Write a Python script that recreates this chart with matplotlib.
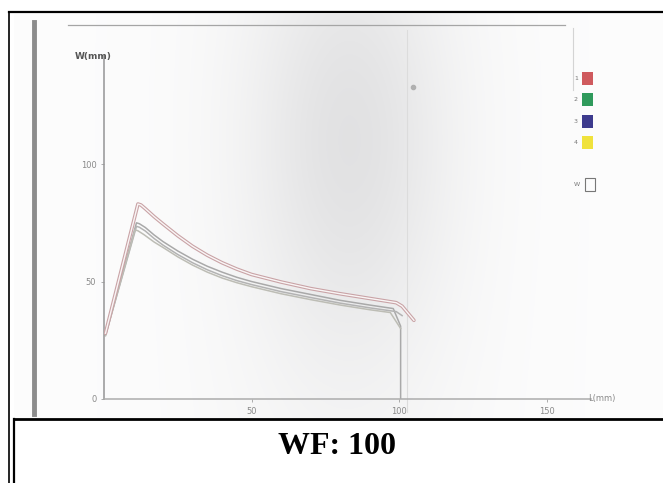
import numpy as np
import matplotlib
matplotlib.use('Agg')
import matplotlib.pyplot as plt
from matplotlib.patches import Rectangle

# ---------------- data ----------------
L1 = [0.5, 11.5, 12.5, 14, 17, 20, 25, 30, 35, 40, 45, 50, 60, 70, 80, 90, 99, 101, 105]
F1 = [28, 83, 82.6, 81, 77.6, 74.5, 69.5, 65, 61.2, 58, 55.3, 53, 49.8, 47, 44.8, 42.8, 41, 39.5, 33.5]

L2 = [0.5, 11, 12, 14, 17, 20, 25, 30, 35, 40, 45, 50, 60, 70, 80, 90, 98, 100.5, 100.5]
F2 = [27.5, 75, 74.6, 73, 69.8, 67, 63, 59.5, 56.5, 54, 51.8, 50, 47, 44.5, 42, 40, 38.5, 31, 0]

L3 = [0.5, 11, 12, 14, 17, 20, 25, 30, 35, 40, 45, 50, 60, 70, 80, 90, 99, 101]
F3 = [27, 73.5, 73.1, 71.5, 68.3, 65.5, 61.5, 58, 55, 52.5, 50.4, 48.7, 45.7, 43.2, 40.8, 38.8, 37.2, 35.5]

L4 = [0.5, 10.5, 11.5, 13.5, 17, 20, 25, 30, 35, 40, 45, 50, 60, 70, 80, 90, 97, 100.5]
F4 = [27, 72, 71.6, 70, 66.8, 64.5, 60.5, 57, 54, 51.5, 49.5, 47.8, 44.8, 42.3, 40, 38, 36.8, 30]

series_L = [L1, L2, L3, L4]
series_F = [F1, F2, F3, F4]
series_names = ['1', '2', '3', '4']
legend_colors = ['#cf5a5e', '#2f9a5c', '#3d3b8e', '#f0e23c']
line_colors = ['#c9a3a6', '#a9a9a9', '#b3b3b3', '#bdbdb5']

x_ticks = [50, 100, 150]
y_ticks = [0, 50, 100]
x_label = 'L(mm)'
y_label = 'W(mm)'
caption = 'WF: 100'

# ---------------- figure ----------------
W, H = 663, 483
fig = plt.figure(figsize=(W / 100, H / 100), dpi=100)

ov = fig.add_axes([0, 0, 1, 1], zorder=0)
yy, xx = np.mgrid[0:H, 0:W]
dark = (0.085 * np.exp(-0.5 * (((xx - 350) / 70) ** 2 + ((yy - 140) / 150) ** 2))
        + 0.02 * np.exp(-0.5 * (((xx - 340) / 110) ** 2)) + 0.01)
img = np.ones((H, W, 3)) - dark[..., None] * np.array([1.0, 1.0, 0.96])
mask = (xx >= 14) & (yy >= 14) & (yy <= 418)
img[~mask] = 1.0
ov.imshow(img, extent=(0, W, H, 0), aspect='auto', interpolation='bilinear', zorder=0)
ov.set_xlim(0, W)
ov.set_ylim(H, 0)
ov.axis('off')

# frame of the table cell
ov.plot([9, 9], [12, H], color='black', lw=1.2, zorder=5)
ov.plot([9, W], [12, 12], color='black', lw=1.6, zorder=5)
ov.plot([14, W], [419, 419], color='black', lw=2.0, zorder=5)
ov.plot([14, 14], [419, H], color='black', lw=1.6, zorder=5)

# scan artifacts
ov.plot([34, 34], [22, 414], color='#8c8c8c', lw=3.5, zorder=2)
ov.plot([68, 565], [25, 25], color='#a5a5a5', lw=0.9, zorder=2)
ov.plot([407, 407], [30, 412], color='#dcdcdc', lw=0.8, zorder=2)
ov.plot([573, 573], [28, 90], color='#d4d4d4', lw=0.8, zorder=2)
ov.plot([413], [87], 'o', color='#b0b0b0', ms=3, zorder=2)

# legend of the original instrument chart
leg_y = [72, 93, 115, 136]
for name, col, y0 in zip(series_names, legend_colors, leg_y):
    ov.add_patch(Rectangle((582, y0), 11, 13, facecolor=col, edgecolor='none', zorder=3))
    ov.text(576, y0 + 6.5, name, fontsize=4.5, color='#777777', ha='center', va='center', zorder=3)
ov.add_patch(Rectangle((585, 178), 10, 13, facecolor='none', edgecolor='#777777', lw=0.8, zorder=3))
ov.text(577, 184.5, 'W', fontsize=4.5, color='#777777', ha='center', va='center', zorder=3)

# caption
ov.text(337, 446, caption, family='Liberation Serif', weight='bold', fontsize=23,
        ha='center', va='center', color='black', zorder=5)

# ---------------- chart axes ----------------
ax = fig.add_axes([104 / W, (H - 399) / H, (591 - 104) / W, (399 - 56) / H], zorder=3)
ax.patch.set_alpha(0)
ax.set_xlim(0, 165)
ax.set_ylim(0, 146)
for s in ['top', 'right']:
    ax.spines[s].set_visible(False)
ax.spines['left'].set_color('#959595')
ax.spines['left'].set_linewidth(1.1)
ax.spines['bottom'].set_color('#acacac')
ax.spines['bottom'].set_linewidth(1.1)

for i, (Ls, Fs, c) in enumerate(zip(series_L, series_F, line_colors)):
    if i == 0:
        ax.plot(Ls, Fs, color=c, lw=2.6, solid_capstyle='round', solid_joinstyle='round', zorder=3)
        ax.plot(Ls, Fs, color='white', lw=1.0, alpha=0.9, solid_joinstyle='round', zorder=3.1)
    else:
        ax.plot(Ls, Fs, color=c, lw=1.1, solid_joinstyle='round', zorder=2)

ax.set_xticks(x_ticks)
ax.set_xticklabels([str(v) for v in x_ticks])
ax.set_yticks(y_ticks)
ax.set_yticklabels([str(v) for v in y_ticks])
ax.tick_params(axis='both', length=2.5, width=0.6, color='#a0a0a0',
               labelsize=6, labelcolor='#8a8a8a', pad=3)

fig.text(602 / W, 1 - 398 / H, x_label, fontsize=6, color='#8a8a8a', ha='center', va='center', zorder=4)
fig.text(93 / W, 1 - 56 / H, y_label, fontsize=6.5, color='#555555', ha='center', va='center',
         weight='bold', zorder=4)

fig.savefig('out.png', dpi=100)
